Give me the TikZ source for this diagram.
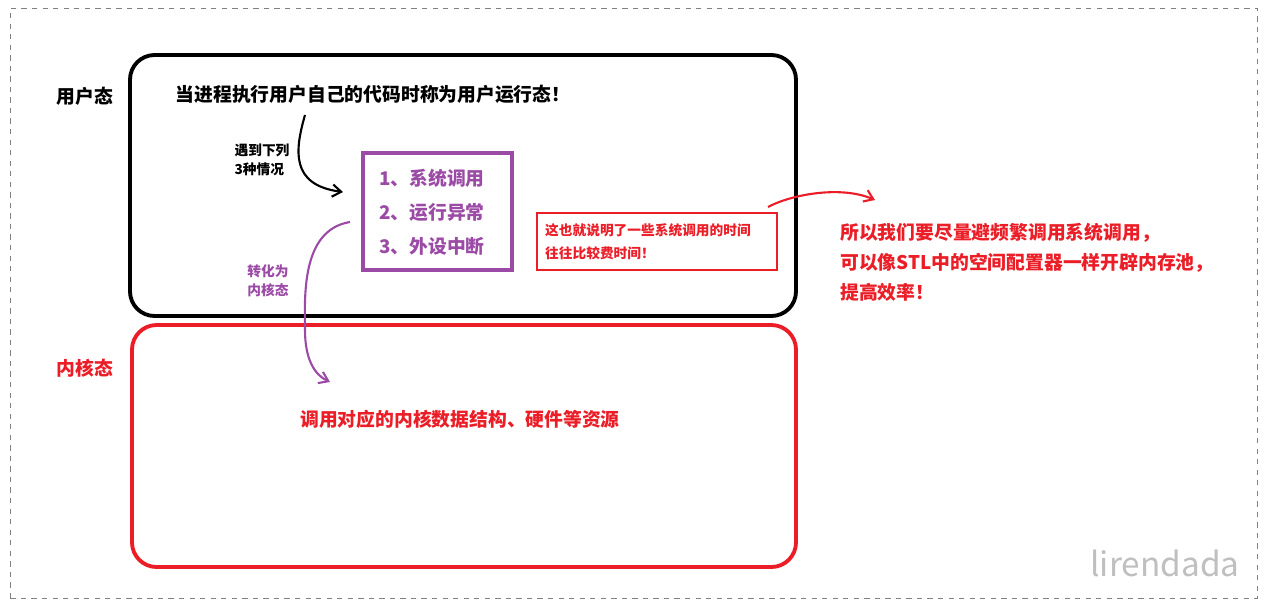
\documentclass[tikz,border=0pt]{standalone}
\usepackage{fontspec}
\setmainfont{Noto Sans CJK SC}
\usetikzlibrary{arrows.meta}
\definecolor{pur}{RGB}{155,75,165}
\definecolor{rd}{RGB}{235,30,40}
\begin{document}
\begin{tikzpicture}[x=0.02cm,y=-0.02cm,
  big/.style={font=\fontsize{10.7}{12}\selectfont\bfseries},
  small/.style={font=\fontsize{7.8}{9}\selectfont\bfseries},
  arr/.style={line width=1.2pt,-{Straight Barb[length=5pt,width=7pt]}}]
\useasboundingbox (0,0) rectangle (1271,606);
\node[draw=gray,dashed,minimum width=1247*0.02cm,minimum height=590*0.02cm,anchor=north west] (outer) at (10,8) {};
\draw[line width=2.2pt,rounded corners=14] (130,55) rectangle (796,316);
\draw[line width=2.2pt,rd,rounded corners=14] (132,325) rectangle (796,567);
\node[big] (u) at (85,96) {用户态};
\node[big,rd] (k) at (85,368) {内核态};
\node[big] (t1) at (373,94) {当进程执行用户自己的代码时称为用户运行态！};
\node[small,align=left] (cond) at (262,160) {遇到下列\\[2pt]3种情况};
\node[draw=pur,line width=2.2pt,minimum width=149*0.02cm,minimum height=117*0.02cm] (pb) at (437.5,211.5) {};
\node[big,pur] (p1) at (432,178) {1、系统调用};
\node[big,pur] (p2) at (432,212) {2、运行异常};
\node[big,pur] (p3) at (432,246) {3、外设中断};
\node[small,pur,align=center] (tr) at (268,281) {转化为\\[2pt]内核态};
\coordinate (a0) at (305,115);
\draw[arr] (a0) .. controls (295,150) and (290,185) .. (343,192);
\coordinate (b0) at (350,222);
\draw[arr,pur] (b0) .. controls (300,230) and (305,300) .. (305,330) .. controls (305,360) and (315,375) .. (330,382);
\node[draw=rd,line width=1.2pt,minimum width=240*0.02cm,minimum height=57*0.02cm] (rb) at (657,241.5) {};
\node[small,rd,align=left,anchor=west] (rt) at (539,241.5) {这也就说明了一些系统调用的时间\\[4pt]往往比较费时间！};
\coordinate (c0) at (768,207);
\draw[arr,rd] (c0) .. controls (790,195) and (840,185) .. (875,200);
\node[big,rd,align=left,anchor=west] (rr) at (834,262) {所以我们要尽量避频繁调用系统调用，\\[5pt]可以像STL中的空间配置器一样开辟内存池，\\[5pt]提高效率！};
\node[big,rd] (kt) at (460,419) {调用对应的内核数据结构、硬件等资源};
\node[font=\fontsize{19}{20}\selectfont,gray!50] (wm) at (1165,563) {lirendada};
\end{tikzpicture}
\end{document}
